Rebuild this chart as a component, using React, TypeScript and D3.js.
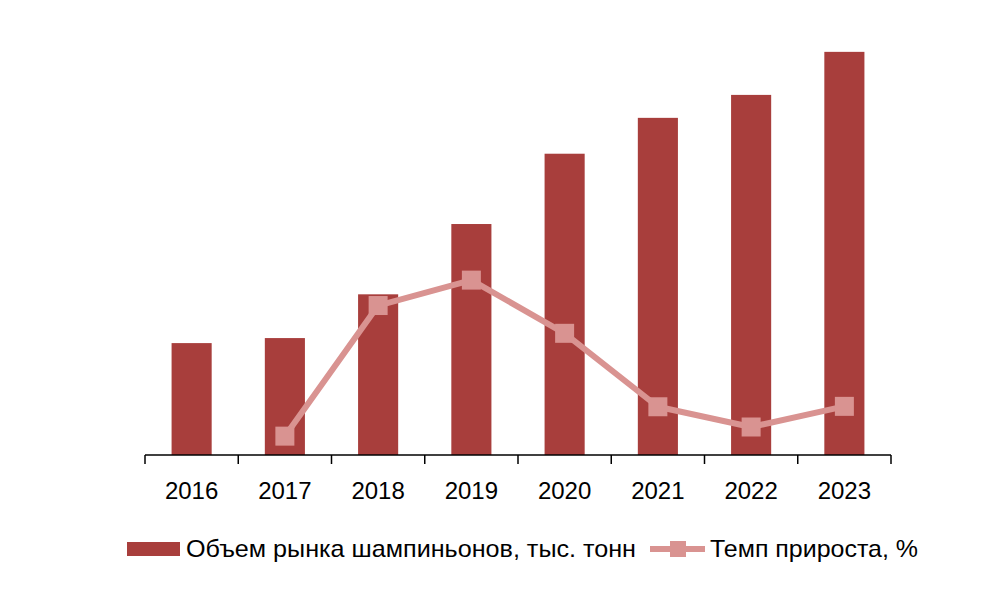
import React from "react";
import * as d3 from "d3";

const years = ["2016", "2017", "2018", "2019", "2020", "2021", "2022", "2023"];
const volume = [78, 81.5, 112, 161, 210, 235, 251, 281];
const growthYears = ["2017", "2018", "2019", "2020", "2021", "2022", "2023"];
const growth = [4.5, 37.4, 43.8, 30.4, 11.9, 6.8, 12.0];

const legendBar = "Объем рынка шампиньонов, тыс. тонн";
const legendLine = "Темп прироста, %";

const W = 1000;
const H = 589;
const BAR = "#A83E3C";
const LINE = "#D99391";
const FONT = "'Liberation Sans', Arial, sans-serif";

export default function App() {
  const x = d3.scaleBand<string>().domain(years).range([145, 891]).paddingInner(0.57).paddingOuter(0.285);
  const y = d3.scaleLinear().domain([0, 300]).range([455, 24.6]);
  const y2 = d3.scaleLinear().domain([0, 100]).range([454, 57]);
  const band = d3.scaleBand<string>().domain(years).range([145, 891]);
  const cx = (d: string) => (band(d) as number) + band.bandwidth() / 2;
  const line = d3
    .line<number>()
    .x((_, i) => cx(growthYears[i]))
    .y((d) => y2(d));
  const ticks = d3.range(years.length + 1).map((i) => 145 + i * band.step());
  const ms = 19;

  return (
    <svg width={W} height={H} style={{ position: "absolute", left: 0, top: 0, background: "#fff" }}>
      <rect width={W} height={H} fill="#fff" />
      {years.map((yr, i) => (
        <rect
          key={yr}
          x={x(yr)}
          y={y(volume[i])}
          width={x.bandwidth()}
          height={y(0) - y(volume[i])}
          fill={BAR}
        />
      ))}
      <line x1={145} x2={891} y1={455} y2={455} stroke="#000" strokeWidth={1.5} />
      {ticks.map((t, i) => (
        <line key={i} x1={t} x2={t} y1={455} y2={464} stroke="#000" strokeWidth={1.5} />
      ))}
      {years.map((yr) => (
        <text key={yr} x={cx(yr)} y={499} textAnchor="middle" fontFamily={FONT} fontSize={24} fill="#000">
          {yr}
        </text>
      ))}
      <path d={line(growth) || ""} fill="none" stroke={LINE} strokeWidth={6} strokeLinejoin="round" />
      {growth.map((g, i) => (
        <rect key={i} x={cx(growthYears[i]) - ms / 2} y={y2(g) - ms / 2} width={ms} height={ms} fill={LINE} />
      ))}
      {/* legend */}
      <rect x={127} y={542} width={53} height={14} fill={BAR} />
      <text x={186} y={557} fontFamily={FONT} fontSize={24} textLength={450} lengthAdjust="spacingAndGlyphs" fill="#000">
        {legendBar}
      </text>
      <line x1={650} x2={705} y1={549} y2={549} stroke={LINE} strokeWidth={6} />
      <rect x={670} y={541} width={16} height={16} fill={LINE} />
      <text x={710} y={557} fontFamily={FONT} fontSize={24} textLength={208} lengthAdjust="spacingAndGlyphs" fill="#000">
        {legendLine}
      </text>
    </svg>
  );
}
